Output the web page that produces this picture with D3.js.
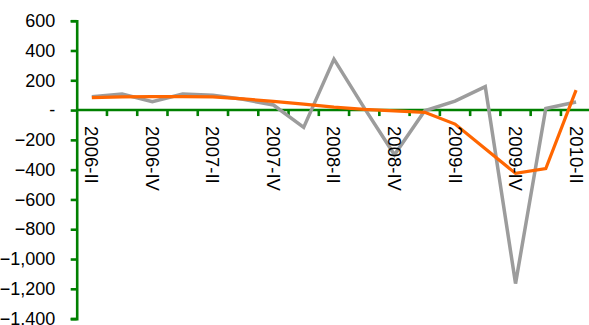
<!DOCTYPE html>
<html><head><meta charset="utf-8">
<script src="https://cdn.jsdelivr.net/npm/d3@7"></script>
<style>body{margin:0;background:#fff}svg{display:block}</style>
</head><body><svg id="c" width="589" height="325"></svg>
<script>
const categories = ["2006-II","2006-III","2006-IV","2007-I","2007-II","2007-III","2007-IV","2008-I","2008-II","2008-III","2008-IV","2009-I","2009-II","2009-III","2009-IV","2010-I","2010-II"];
const orangeValues = [83,88,90,90,88,75,58,40,20,5,-5,-15,-94,-260,-425,-393,134];
const grayValues = [90,107,56,107,100,72,34,-116,342,15,-300,-5,60,157,-1165,11,54];
const yTicks = [600,400,200,0,-200,-400,-600,-800,-1000,-1200,-1400];
const labelEvery = 2;

const svg = d3.select("#c");
const x = d3.scaleBand().domain(categories).range([76.7, 591.2]).padding(0);
const y = d3.scaleLinear().domain([-1400, 600]).range([318.6, 20.7]);
const green = "#008000";
const fmt = v => v === 0 ? "-" : d3.format(",")(v);
const fontFam = "Liberation Sans, Arial, sans-serif";

// y axis
const ya = svg.append("g").attr("transform", `translate(${x.range()[0]},0)`)
  .call(d3.axisLeft(y).tickValues(yTicks).tickFormat(fmt).tickSize(6).tickPadding(15.5));
ya.select(".domain").attr("stroke", green).attr("stroke-width", 2.6);
ya.selectAll(".tick line").attr("stroke", green).attr("stroke-width", 2.6);
ya.selectAll(".tick text").attr("font-family", fontFam).attr("font-size", 18).attr("fill", "#000");

// x axis line at zero
const xa = svg.append("g").attr("transform", `translate(0,${y(0)})`);
xa.append("line").attr("x1", x.range()[0]).attr("x2", 589).attr("stroke", green).attr("stroke-width", 2.6);
xa.selectAll("line.tk").data(categories.slice(1)).join("line").attr("class","tk")
  .attr("x1", d => x(d)).attr("x2", d => x(d)).attr("y1", 0).attr("y2", 6)
  .attr("stroke", green).attr("stroke-width", 2.6);

const line = d3.line().x((d,i) => x(categories[i]) + x.bandwidth()/2).y(d => y(d));
svg.append("path").datum(grayValues).attr("d", line).attr("fill","none").attr("stroke","#9c9c9c").attr("stroke-width",3.5).attr("stroke-linejoin","miter");
svg.append("path").datum(orangeValues).attr("d", line).attr("fill","none").attr("stroke","#ff6600").attr("stroke-width",3.2).attr("stroke-linejoin","miter");

// x labels
svg.append("g").selectAll("text").data(categories.filter((d,i) => i % labelEvery === 0)).join("text")
  .attr("transform", d => `translate(${x(d) + x.bandwidth()/2},${y(0)+16}) rotate(90)`)
  .attr("dy", "0.35em").attr("text-anchor","start")
  .attr("font-family", fontFam).attr("font-size", 18.5).attr("fill","#000")
  .text(d => d);
</script></body></html>
